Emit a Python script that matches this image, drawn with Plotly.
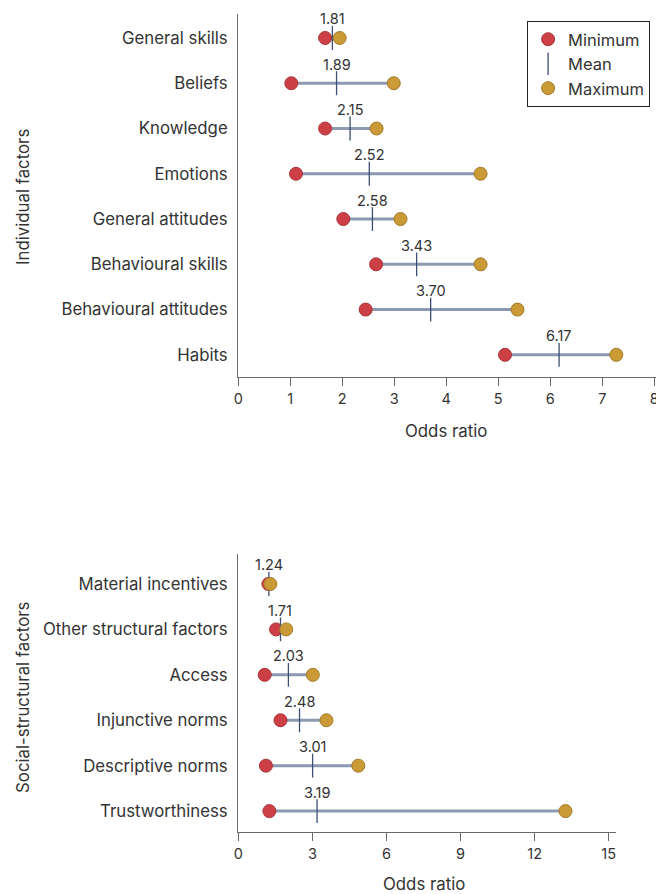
import plotly.graph_objects as go

# Individual factors
ind_cats = ["General skills", "Beliefs", "Knowledge", "Emotions", "General attitudes",
            "Behavioural skills", "Behavioural attitudes", "Habits"]
ind_min = [1.67, 1.02, 1.67, 1.11, 2.02, 2.65, 2.45, 5.13]
ind_mean = [1.81, 1.89, 2.15, 2.52, 2.58, 3.43, 3.70, 6.17]
ind_max = [1.95, 2.99, 2.66, 4.66, 3.12, 4.66, 5.37, 7.27]

# Social-structural factors
soc_cats = ["Material incentives", "Other structural factors", "Access", "Injunctive norms",
            "Descriptive norms", "Trustworthiness"]
soc_min = [1.22, 1.53, 1.07, 1.71, 1.12, 1.26]
soc_mean = [1.24, 1.71, 2.03, 2.48, 3.01, 3.19]
soc_max = [1.30, 1.94, 3.02, 3.57, 4.86, 13.25]

ind_ticks = [0, 1, 2, 3, 4, 5, 6, 7, 8]
soc_ticks = [0, 3, 6, 9, 12, 15]

FONT = "Inter"
RED = "#cc3f45"
RED_EDGE = "#a8333a"
GOLD = "#c99a36"
GOLD_EDGE = "#a27a28"
LINE = "#8d99b2"
MEAN = "#3d4f73"
TXT = "#333333"

# page has a body margin; figure is sized to fit inside the window
W, H, OFFX, OFFY = 656, 886, 10, 8


def px(X):
    return (X - OFFX) / W


def py(Y):
    return 1 - (Y - OFFY) / H


fig = go.Figure()


def add_panel(cats, mins, means, maxs, xa, ya, legend):
    lx, ly = [], []
    for c, a, b in zip(cats, mins, maxs):
        lx += [a, b, None]
        ly += [c, c, None]
    fig.add_trace(go.Scatter(x=lx, y=ly, mode="lines", line=dict(color=LINE, width=3),
                             showlegend=False, hoverinfo="skip", xaxis=xa, yaxis=ya))
    fig.add_trace(go.Scatter(x=mins, y=cats, mode="markers", name="Minimum",
                             marker=dict(color=RED, size=13, line=dict(color=RED_EDGE, width=1)),
                             showlegend=legend, xaxis=xa, yaxis=ya))
    fig.add_trace(go.Scatter(x=means, y=cats, mode="markers", name="Mean",
                             marker=dict(symbol="line-ns", size=17, color=MEAN,
                                         line=dict(color=MEAN, width=1.3)),
                             showlegend=legend, xaxis=xa, yaxis=ya))
    fig.add_trace(go.Scatter(x=maxs, y=cats, mode="markers", name="Maximum",
                             marker=dict(color=GOLD, size=13, line=dict(color=GOLD_EDGE, width=1)),
                             showlegend=legend, xaxis=xa, yaxis=ya))
    for c, m in zip(cats, means):
        fig.add_annotation(x=m, y=c, xref=xa, yref=ya, text=f"{m:.2f}", showarrow=False,
                           yshift=19, font=dict(family=FONT, size=14.5, color=TXT))


add_panel(ind_cats, ind_min, ind_mean, ind_max, "x", "y", True)
add_panel(soc_cats, soc_min, soc_mean, soc_max, "x2", "y2", False)

axis_common = dict(showline=True, linecolor="#6a6a6a", linewidth=1.4, showgrid=False,
                   zeroline=False)
xtick = dict(tickfont=dict(family=FONT, size=14.5, color=TXT), ticks="outside", ticklen=8,
             tickcolor="#6a6a6a", tickwidth=1.4)
ytick = dict(tickfont=dict(family=FONT, size=16.8, color=TXT), ticks="", ticklabelstandoff=6)

fig.update_layout(
    width=W, height=H,
    margin=dict(l=0, r=0, t=0, b=0),
    paper_bgcolor="white", plot_bgcolor="white",
    font=dict(family=FONT, color=TXT),
    showlegend=True,
    legend=dict(x=px(652), y=py(21), xanchor="right", yanchor="top",
                bordercolor="#222222", borderwidth=1, bgcolor="white",
                font=dict(family=FONT, size=16.5, color=TXT),
                itemwidth=30, tracegroupgap=0, traceorder="normal"),
    xaxis=dict(domain=[px(237), px(663)], range=[0, 8.13], anchor="y",
               tickvals=ind_ticks, **xtick, **axis_common),
    yaxis=dict(domain=[py(377), py(14)], range=[7.49, -0.53], anchor="x",
               type="category", categoryorder="array", categoryarray=ind_cats,
               **ytick, **axis_common),
    xaxis2=dict(domain=[px(237), px(618)], range=[0, 15.31], anchor="y2",
                tickvals=soc_ticks, **xtick, **axis_common),
    yaxis2=dict(domain=[py(832), py(554)], range=[5.46, -0.66], anchor="x2",
                type="category", categoryorder="array", categoryarray=soc_cats,
                **ytick, **axis_common),
)

# axis titles
titles = [
    dict(text="Odds ratio", X=446, Y=431, angle=0),
    dict(text="Odds ratio", X=424, Y=884, angle=0),
    dict(text="Individual factors", X=20, Y=197, angle=-90),
    dict(text="Social-structural factors", X=20, Y=697, angle=-90),
]
for t in titles:
    fig.add_annotation(text=t["text"], x=px(t["X"]), y=py(t["Y"]), xref="paper", yref="paper",
                       xanchor="center", yanchor="middle", showarrow=False,
                       textangle=t["angle"], font=dict(family=FONT, size=16.8, color=TXT))

fig.write_html("out.html")
